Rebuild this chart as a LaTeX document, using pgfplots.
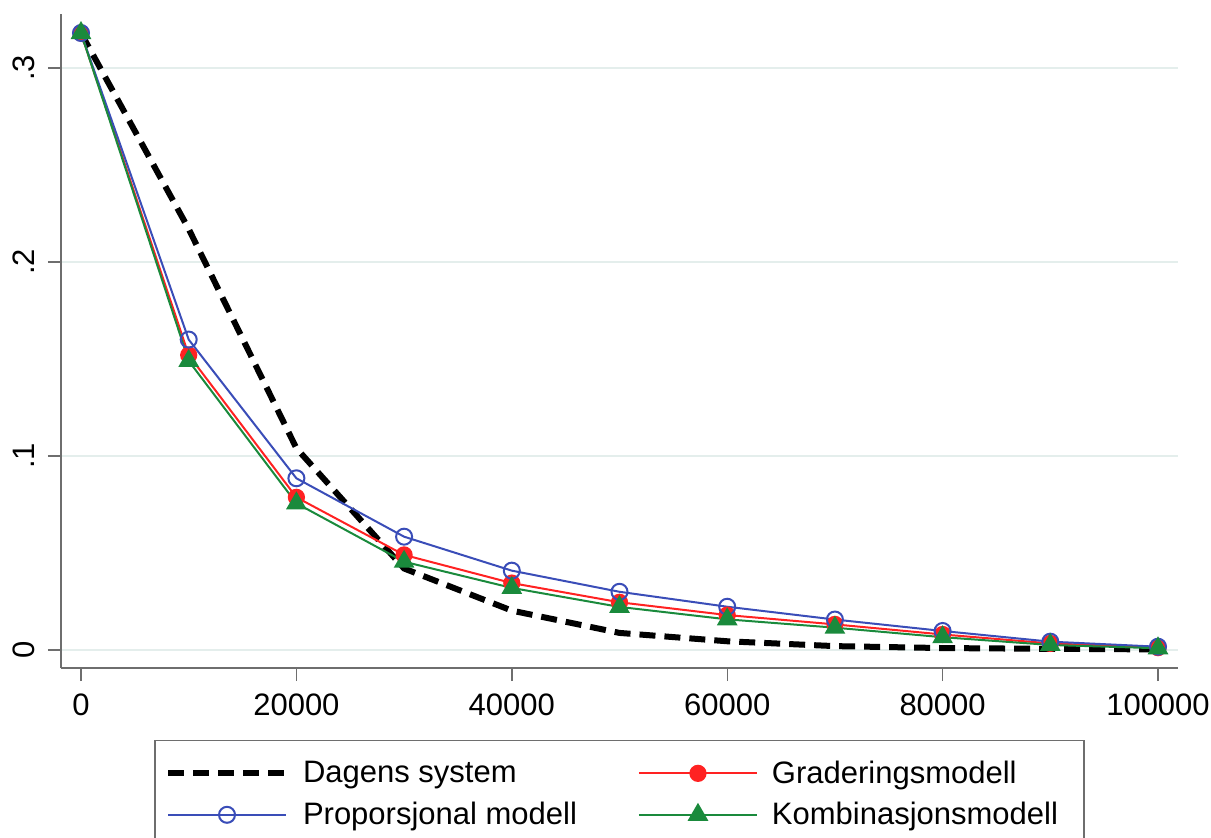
\documentclass[border=0pt]{standalone}
\usepackage{pgfplots}
\pgfplotsset{compat=1.18}
\usepackage{fontspec}
\setmainfont{Liberation Sans}
\definecolor{cblue}{HTML}{3A4DB8}
\definecolor{cred}{HTML}{FF2222}
\definecolor{cgreen}{HTML}{1A8A3C}
\definecolor{cgrid}{HTML}{E4EEEC}
\definecolor{caxis}{HTML}{6E6E6E}
\begin{document}
\begin{tikzpicture}
\path[use as bounding box] (0,0) rectangle (605.5pt,418.5pt);
\clip (0,0) rectangle (605.5pt,418.5pt);
\begin{axis}[
  at={(30.5pt,84.5pt)}, anchor=south west,
  scale only axis, width=558.5pt, height=327pt,
  xmin=-1857, xmax=101857, ymin=-0.00928, ymax=0.3278,
  axis x line*=bottom, axis y line*=left,
  axis line style={caxis, line width=0.9pt},
  tick align=outside, major tick length=6.5pt,
  tick style={caxis, line width=0.7pt},
  scaled x ticks=false, scaled y ticks=false,
  xtick={0,20000,40000,60000,80000,100000},
  xticklabels={0,20000,40000,60000,80000,100000},
  ytick={0,0.1,0.2,0.3},
  yticklabels={0,.1,.2,.3},
  yticklabel style={rotate=90, anchor=south, font=\fontsize{15.5pt}{18pt}\selectfont},
  yticklabel shift=3pt,
  xticklabel style={font=\fontsize{15.5pt}{18pt}\selectfont},
  xticklabel shift=3pt,
  ymajorgrids, major grid style={cgrid, line width=0.8pt},
  clip=false,
  legend columns=2,
  legend cell align=left,
  legend style={at={(0.5,-0.1101)}, anchor=north, draw=caxis, line width=0.6pt,
    font=\fontsize{15.5pt}{18pt}\selectfont, inner xsep=5pt, inner ysep=8pt,
    row sep=4pt,
    /tikz/every odd column/.append style={column sep=5pt},
    /tikz/every even column/.append style={column sep=28.5pt},
    /tikz/column 4/.append style={nodes={text width=149pt, align=left}}},
  legend image code/.code={\draw[mark repeat=2,mark phase=2] plot coordinates {(0pt,0pt) (29.5pt,0pt) (59pt,0pt)};},
]
\addplot[black, line width=3pt, dash pattern=on 8pt off 4.5pt, no markers] coordinates {
(0,0.318) (10000,0.217) (20000,0.104) (30000,0.042) (40000,0.0203) (50000,0.0088)
(60000,0.0045) (70000,0.002) (80000,0.001) (90000,0.0006) (100000,0.0003)};
\addlegendentry{Dagens system}
\addplot[cred, line width=1pt, mark=*, mark size=3.8pt, mark options={fill=cred, draw=cred}] coordinates {
(0,0.318) (10000,0.152) (20000,0.0787) (30000,0.049) (40000,0.0345) (50000,0.0246)
(60000,0.018) (70000,0.0132) (80000,0.008) (90000,0.0034) (100000,0.0012)};
\addlegendentry{Graderingsmodell}
\addplot[cblue, line width=1pt, mark=o, mark size=4pt, mark options={line width=1pt}] coordinates {
(0,0.318) (10000,0.160) (20000,0.0885) (30000,0.0584) (40000,0.0409) (50000,0.030)
(60000,0.0223) (70000,0.0157) (80000,0.0098) (90000,0.0043) (100000,0.0017)};
\addlegendentry{Proporsjonal modell}
\addplot[cgreen, line width=1pt, mark=triangle*, mark size=5pt, mark options={fill=cgreen, draw=cgreen}] coordinates {
(0,0.318) (10000,0.149) (20000,0.0756) (30000,0.0455) (40000,0.032) (50000,0.0222)
(60000,0.0158) (70000,0.0115) (80000,0.0066) (90000,0.0026) (100000,0.0009)};
\addlegendentry{Kombinasjonsmodell}
\end{axis}
\end{tikzpicture}
\end{document}
